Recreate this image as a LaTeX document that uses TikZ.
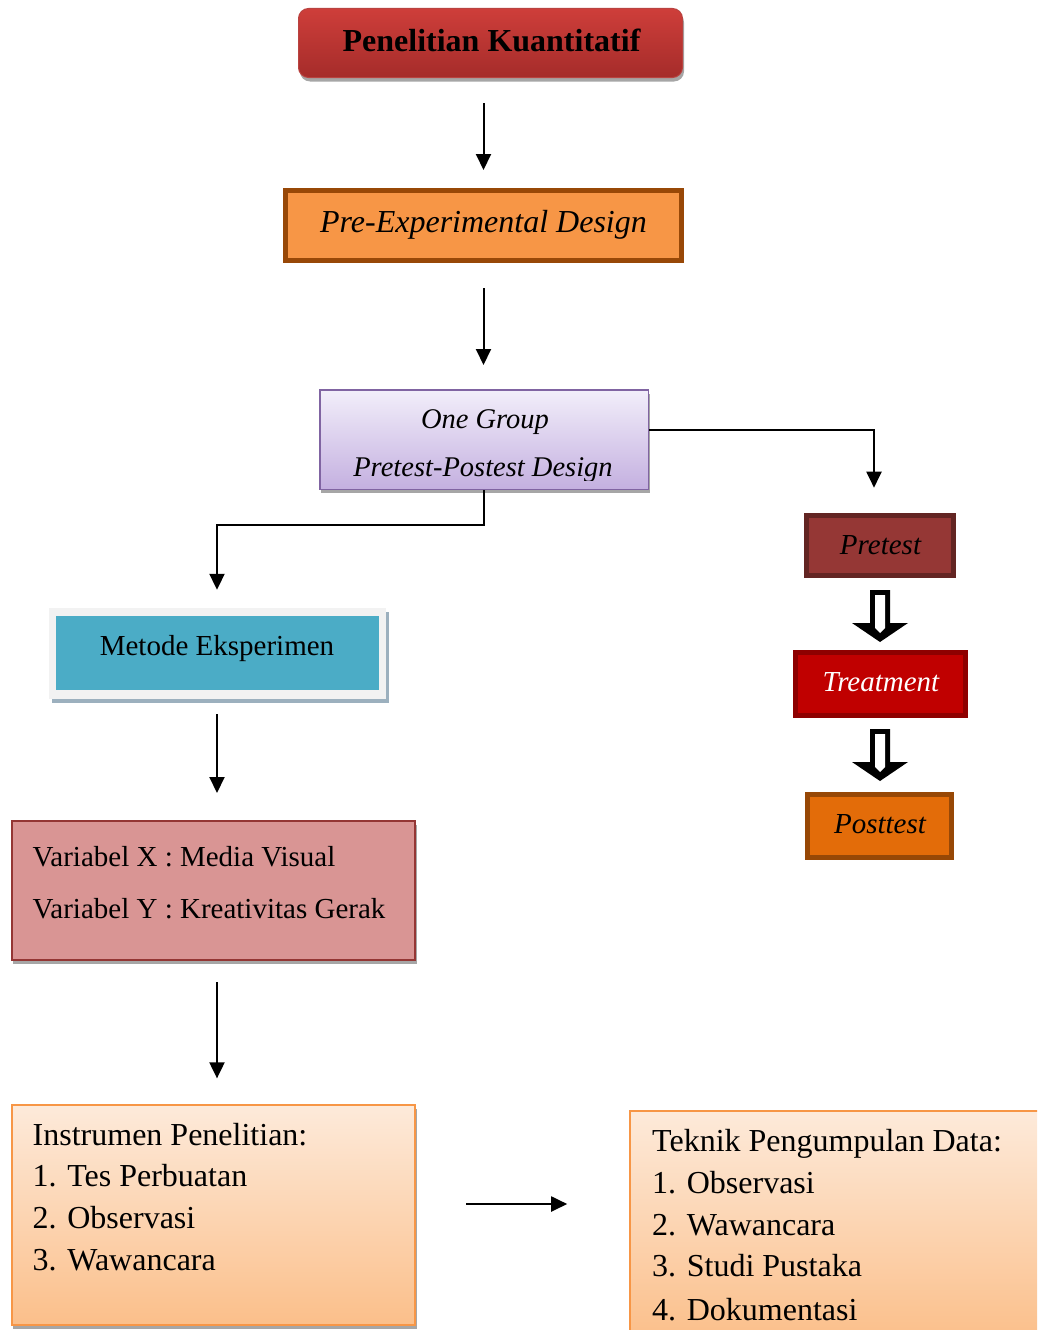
\documentclass[tikz,border=0pt]{standalone}
\usepackage{fontspec}
\setmainfont{Liberation Serif}
\usetikzlibrary{arrows.meta,calc,shadows}
\definecolor{topA}{HTML}{CE3E3A}
\definecolor{topZ}{HTML}{A52C2A}
\definecolor{topBd}{HTML}{B94340}
\definecolor{shadowgray}{HTML}{A6A6A6}
\definecolor{preF}{HTML}{F79646}
\definecolor{preB}{HTML}{984807}
\definecolor{oneA}{HTML}{F2EEFA}
\definecolor{oneZ}{HTML}{C4B0E0}
\definecolor{oneB}{HTML}{8064A2}
\definecolor{metF}{HTML}{F2F2F2}
\definecolor{metS}{HTML}{9CB0BE}
\definecolor{metI}{HTML}{4BACC6}
\definecolor{varF}{HTML}{D99594}
\definecolor{varB}{HTML}{943634}
\definecolor{insA}{HTML}{FDEADA}
\definecolor{insZ}{HTML}{FBBF8A}
\definecolor{insB}{HTML}{F79646}
\definecolor{ptF}{HTML}{953735}
\definecolor{ptB}{HTML}{632523}
\definecolor{trF}{HTML}{C00000}
\definecolor{trB}{HTML}{8E0000}
\definecolor{poF}{HTML}{E36C09}
\definecolor{poB}{HTML}{974806}
\begin{document}
\begin{tikzpicture}[x=1pt,y=-1pt,
  conn/.style={line width=2pt,-{Triangle[length=16pt,width=15pt]}},
  lbl/.style={inner sep=0pt,anchor=base},
  lbll/.style={inner sep=0pt,anchor=base west},
  fa/.style={font=\fontsize{29}{35}\selectfont},
  fb/.style={font=\fontsize{32}{38}\selectfont},
  fai/.style={font=\fontsize{29}{35}\selectfont\itshape},
  box/.style={rectangle,inner sep=0pt},
  gshadow/.style={drop shadow={shadow xshift=1.5pt,shadow yshift=-4pt,fill=shadowgray,opacity=1}},
  blkout/.style={fill=black},
  blkin/.style={fill=white}
]
\clip (0,0) rectangle (1037,1330);

% top box
\node[box,rounded corners=10pt,draw=topBd,line width=1pt,top color=topA,bottom color=topZ,
  minimum width=384pt,minimum height=69pt,gshadow] (top) at (490.5,43) {};
\node[lbl,font=\fontsize{32}{38}\selectfont\bfseries] (topt) at (491.5,52) {Penelitian Kuantitatif};

% pre-experimental
\node[box,draw=preB,fill=preF,line width=5pt,minimum width=396pt,minimum height=70pt] (pre) at (483.5,225.5) {};
\node[lbl,font=\fontsize{32}{38}\selectfont\itshape] (pret) at (483.5,232) {Pre-Experimental Design};

% one group
\node[box,draw=oneB,line width=1.5pt,top color=oneA,bottom color=oneZ,
  minimum width=328.5pt,minimum height=99.5pt,gshadow] (one) at (484,439.5) {};
\node[lbl,font=\fontsize{28.5}{34}\selectfont\itshape] (onet1) at (485,428) {One Group};
\begin{scope}
\clip (319,389) rectangle (649,480);
\node[lbl,font=\fontsize{28.5}{34}\selectfont\itshape] (onet2) at (483,476.7) {Pretest-Postest Design};
\end{scope}

% metode
\node[box,fill=metF,minimum width=337pt,minimum height=91pt,
  drop shadow={shadow xshift=3pt,shadow yshift=-4pt,fill=metS,opacity=1}] (metode) at (217,653.5) {};
\node[box,fill=metI,minimum width=322.5pt,minimum height=74pt] (metodein) at (217.25,653) {};
\node[lbl,fa] (metodet) at (217,655) {Metode Eksperimen};

% variabel
\node[box,draw=varB,fill=varF,line width=2pt,minimum width=403.3pt,minimum height=139pt,gshadow] (var) at (213.35,890.5) {};
\node[lbll,fa] (var1) at (32.5,866.7) {Variabel X : Media Visual};
\node[lbll,fa] (var2) at (32.5,918.3) {Variabel Y : Kreativitas Gerak};

% instrumen
\node[box,draw=insB,line width=2pt,top color=insA,bottom color=insZ,
  minimum width=403.3pt,minimum height=219.7pt,gshadow] (instr) at (213.35,1215.2) {};
\node[lbll,fb] (ins1) at (32.5,1145) {Instrumen Penelitian:};
\node[lbll,fb] (ins2) at (32.5,1186.7) {1. Tes Perbuatan};
\node[lbll,fb] (ins3) at (32.5,1228.3) {2. Observasi};
\node[lbll,fb] (ins4) at (32.5,1270.7) {3. Wawancara};

% teknik
\node[box,draw=insB,line width=2pt,top color=insA,bottom color=insZ,
  minimum width=417pt,minimum height=229pt] (tek) at (838.7,1225.4) {};
\node[lbll,fb] (tek1) at (652,1151.7) {Teknik Pengumpulan Data:};
\node[lbll,fb] (tek2) at (652,1193.3) {1. Observasi};
\node[lbll,fb] (tek3) at (652,1235) {2. Wawancara};
\node[lbll,fb] (tek4) at (652,1276.7) {3. Studi Pustaka};
\node[lbll,fb] (tek5) at (652,1320) {4. Dokumentasi};

% right column
\node[box,draw=ptB,fill=ptF,line width=5pt,minimum width=147pt,minimum height=60.6pt] (pretest) at (880,545.5) {};
\node[lbl,fai] (pretestt) at (880.5,554.3) {Pretest};
\node[box,draw=trB,fill=trF,line width=5pt,minimum width=170.6pt,minimum height=63.3pt] (treat) at (880.5,684.2) {};
\node[lbl,fai,text=white] (treatt) at (881,691.7) {Treatment};
\node[box,draw=poB,fill=poF,line width=5pt,minimum width=143.7pt,minimum height=63.3pt] (post) at (879.7,825.8) {};
\node[lbl,fai] (postt) at (880,833.3) {Posttest};

% block arrows
\fill[blkout] (870,590) -- (870,623) -- (852,623) -- (880,642) -- (908,623) -- (890,623) -- (890,590) -- cycle;
\fill[blkin] (875,595) -- (875,628) -- (880,633) -- (885,628) -- (885,595) -- cycle;
\fill[blkout] (870,729) -- (870,762) -- (852,762) -- (880,781) -- (908,762) -- (890,762) -- (890,729) -- cycle;
\fill[blkin] (875,734) -- (875,767) -- (880,772) -- (885,767) -- (885,734) -- cycle;

% connectors
\draw[conn,shorten <=25pt,shorten >=18pt] (top.south -| pre.north) -- (pre.north);
\draw[conn,shorten <=25pt,shorten >=24pt] (pre.south) -- (one.north -| pre.south);
\coordinate (oneR) at ($(one.east)+(0,-9.5)$);
\coordinate (pretestIn) at ($(pretest.north)+(-6,0)$);
\draw[conn,shorten >=25pt] (oneR) -| (pretestIn);
\draw[conn,shorten >=18pt] (one.south) -- ++(0,35) -| (metode.north);
\draw[conn,shorten <=15pt,shorten >=27pt] (metode.south) -- (metode.south |- var.north);
\draw[conn,shorten <=21pt,shorten >=26pt] (var.south -| metode.south) -- (instr.north -| metode.south);
\coordinate (arrY) at (0,1204);
\draw[conn,shorten <=50pt,shorten >=62pt] (instr.east |- arrY) -- (tek.west |- arrY);
\end{tikzpicture}
\end{document}
